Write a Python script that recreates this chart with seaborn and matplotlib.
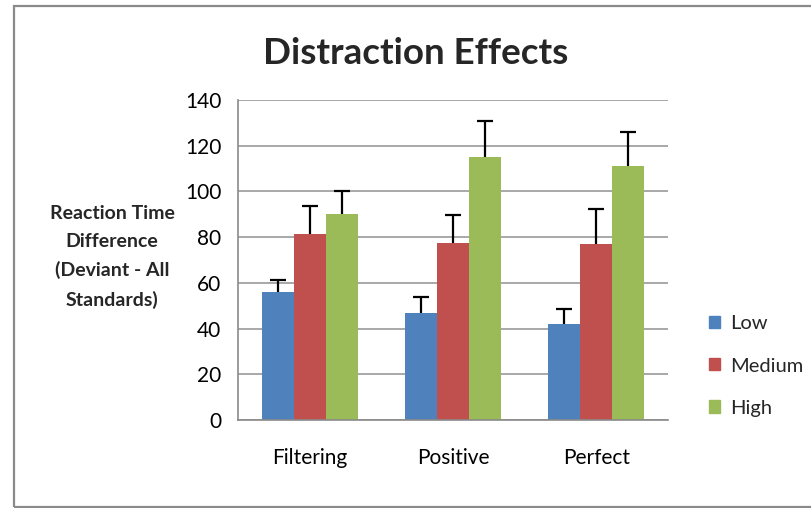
import matplotlib
matplotlib.use("Agg")

import pandas as pd
import matplotlib.pyplot as plt
import seaborn as sns
from matplotlib.patches import Rectangle

# ===============================
# 数据
# ===============================
conditions = ['Filtering', 'Positive', 'Perfect']
levels = ['Low', 'Medium', 'High']
low_vals = [56.2, 46.6, 42.2]
medium_vals = [81.2, 77.3, 76.9]
high_vals = [90.0, 115.0, 111.1]
low_err = [4.9, 7.4, 6.3]
medium_err = [12.3, 12.2, 15.2]
high_err = [10.0, 15.6, 14.7]
colors = ['#4F81BD', '#C0504D', '#9BBB59']

data = pd.DataFrame({
    'Condition': conditions * 3,
    'Level': [lv for lv in levels for _ in conditions],
    'RT': low_vals + medium_vals + high_vals,
    'Err': low_err + medium_err + high_err,
})

# ===============================
# 绘图
# ===============================
sns.set_style('white')
plt.rcParams['font.family'] = ['Lato', 'DejaVu Sans']

fig = plt.figure(figsize=(8.12, 5.08), dpi=100)
ax = fig.add_axes([238 / 812, 1 - 420 / 508, 430 / 812, 320 / 508])

sns.barplot(data=data, x='Condition', y='RT', hue='Level', order=conditions,
            hue_order=levels, palette=colors, width=0.67, errorbar=None,
            saturation=1, linewidth=0, ax=ax, legend=False)

# 只画向上的误差线（去掉下端的横帽）
for bars, lv in zip(ax.containers, levels):
    sub = data[data['Level'] == lv].set_index('Condition').loc[conditions]
    xs = [b.get_x() + b.get_width() / 2 for b in bars]
    _, caps, _ = ax.errorbar(xs, sub['RT'], yerr=[[0] * len(xs), sub['Err']], fmt='none',
                             ecolor='black', elinewidth=1.6, capsize=5.5, capthick=1.6,
                             zorder=5)
    caps[0].set_visible(False)

ax.set_ylim(0, 140)
ax.set_xlim(-0.5, 2.5)
ax.set_yticks(range(0, 141, 20))
ax.yaxis.grid(True, color='#9a9a9a', linewidth=1.2)
ax.set_axisbelow(True)
ax.set_xlabel('')
ax.set_ylabel('')

for side in ['top', 'right']:
    ax.spines[side].set_visible(False)
for side in ['left', 'bottom']:
    ax.spines[side].set_color('#8a8a8a')
    ax.spines[side].set_linewidth(1.2)

# Excel 风格刻度: x 轴刻度在类别之间
ax.set_xticks([0, 1, 2])
ax.set_xticks([-0.5, 0.5, 1.5, 2.5], minor=True)
ax.tick_params(axis='x', which='major', length=0, pad=20, labelsize=15)
ax.tick_params(axis='x', which='minor', length=6, width=1.2, color='#8a8a8a', direction='out')
ax.tick_params(axis='y', length=7, width=1.2, color='#8a8a8a', direction='out',
               labelsize=15, pad=5)
ax.tick_params(axis='both', labelcolor='black')

fig.text(416 / 812, 1 - 53 / 508, 'Distraction Effects', ha='center', va='center',
         fontsize=26.5, fontweight='bold')
fig.text(112 / 812, 1 - 257 / 508,
         'Reaction Time\nDifference\n(Deviant - All\nStandards)',
         ha='center', va='center', fontsize=14, fontweight='bold', linespacing=1.78)

# 图例
handles = [Rectangle((0, 0), 1, 1, color=c) for c in colors]
fig.legend(handles, levels, loc='center left', bbox_to_anchor=(691 / 812, 1 - 366 / 508),
           frameon=False, fontsize=14.5, handlelength=0.55, handleheight=0.55,
           labelspacing=1.25, handletextpad=0.5)

# 外框（右侧超出画面）
fig.patches.append(Rectangle((14 / 812, 1.5 / 508), 820 / 812, 501 / 508,
                             transform=fig.transFigure, fill=False,
                             edgecolor='#8a8a8a', linewidth=1.6))

plt.savefig('out.png', dpi=100)
plt.close()
